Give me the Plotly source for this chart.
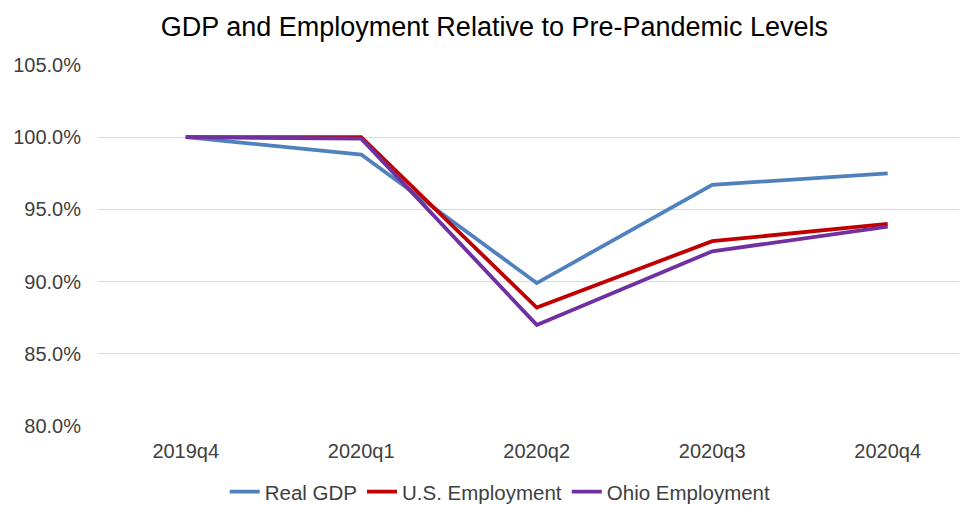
import plotly.graph_objects as go

quarters = ["2019q4", "2020q1", "2020q2", "2020q3", "2020q4"]
real_gdp = [100.0, 98.8, 89.9, 96.7, 97.5]
us_employment = [100.0, 100.0, 88.2, 92.8, 94.0]
ohio_employment = [100.0, 99.9, 87.0, 92.1, 93.8]

series = [
    ("Real GDP", real_gdp, "#4F81BD"),
    ("U.S. Employment", us_employment, "#C00000"),
    ("Ohio Employment", ohio_employment, "#7030A0"),
]

fig = go.Figure()
for name, vals, color in series:
    fig.add_trace(go.Scatter(
        x=quarters,
        y=vals,
        mode="lines",
        name=name,
        line=dict(color=color, width=3.8),
    ))

# page body adds an 8px offset, margins below take that into account
fig.update_layout(
    width=967,
    height=505,
    margin=dict(l=90, r=9, t=57, b=87, autoexpand=False),
    paper_bgcolor="white",
    plot_bgcolor="white",
    font=dict(family="Liberation Sans, Arial, sans-serif", size=20, color="#404040"),
    title=dict(text="GDP and Employment Relative to Pre-Pandemic Levels",
               x=0.503, xref="container", xanchor="center",
               y=0.964, yref="container", yanchor="middle",
               font=dict(size=27, color="#000000")),
    legend=dict(orientation="h", x=0.509, xanchor="center", xref="container",
                y=0.042, yref="container", yanchor="middle", font=dict(size=20.5),
                entrywidth=0),
)

fig.update_xaxes(range=[-0.5, 4.446], showgrid=False, showline=False,
                 ticks="", tickangle=0, automargin=False, ticklabelstandoff=11)
fig.update_yaxes(range=[80, 105], dtick=5, tickformat=".1f", ticksuffix="%",
                 showgrid=True, gridcolor="#D9D9D9", gridwidth=1.3,
                 zeroline=False, showline=False, automargin=False,
                 ticklabelstandoff=16)

fig.write_html("out.html")
